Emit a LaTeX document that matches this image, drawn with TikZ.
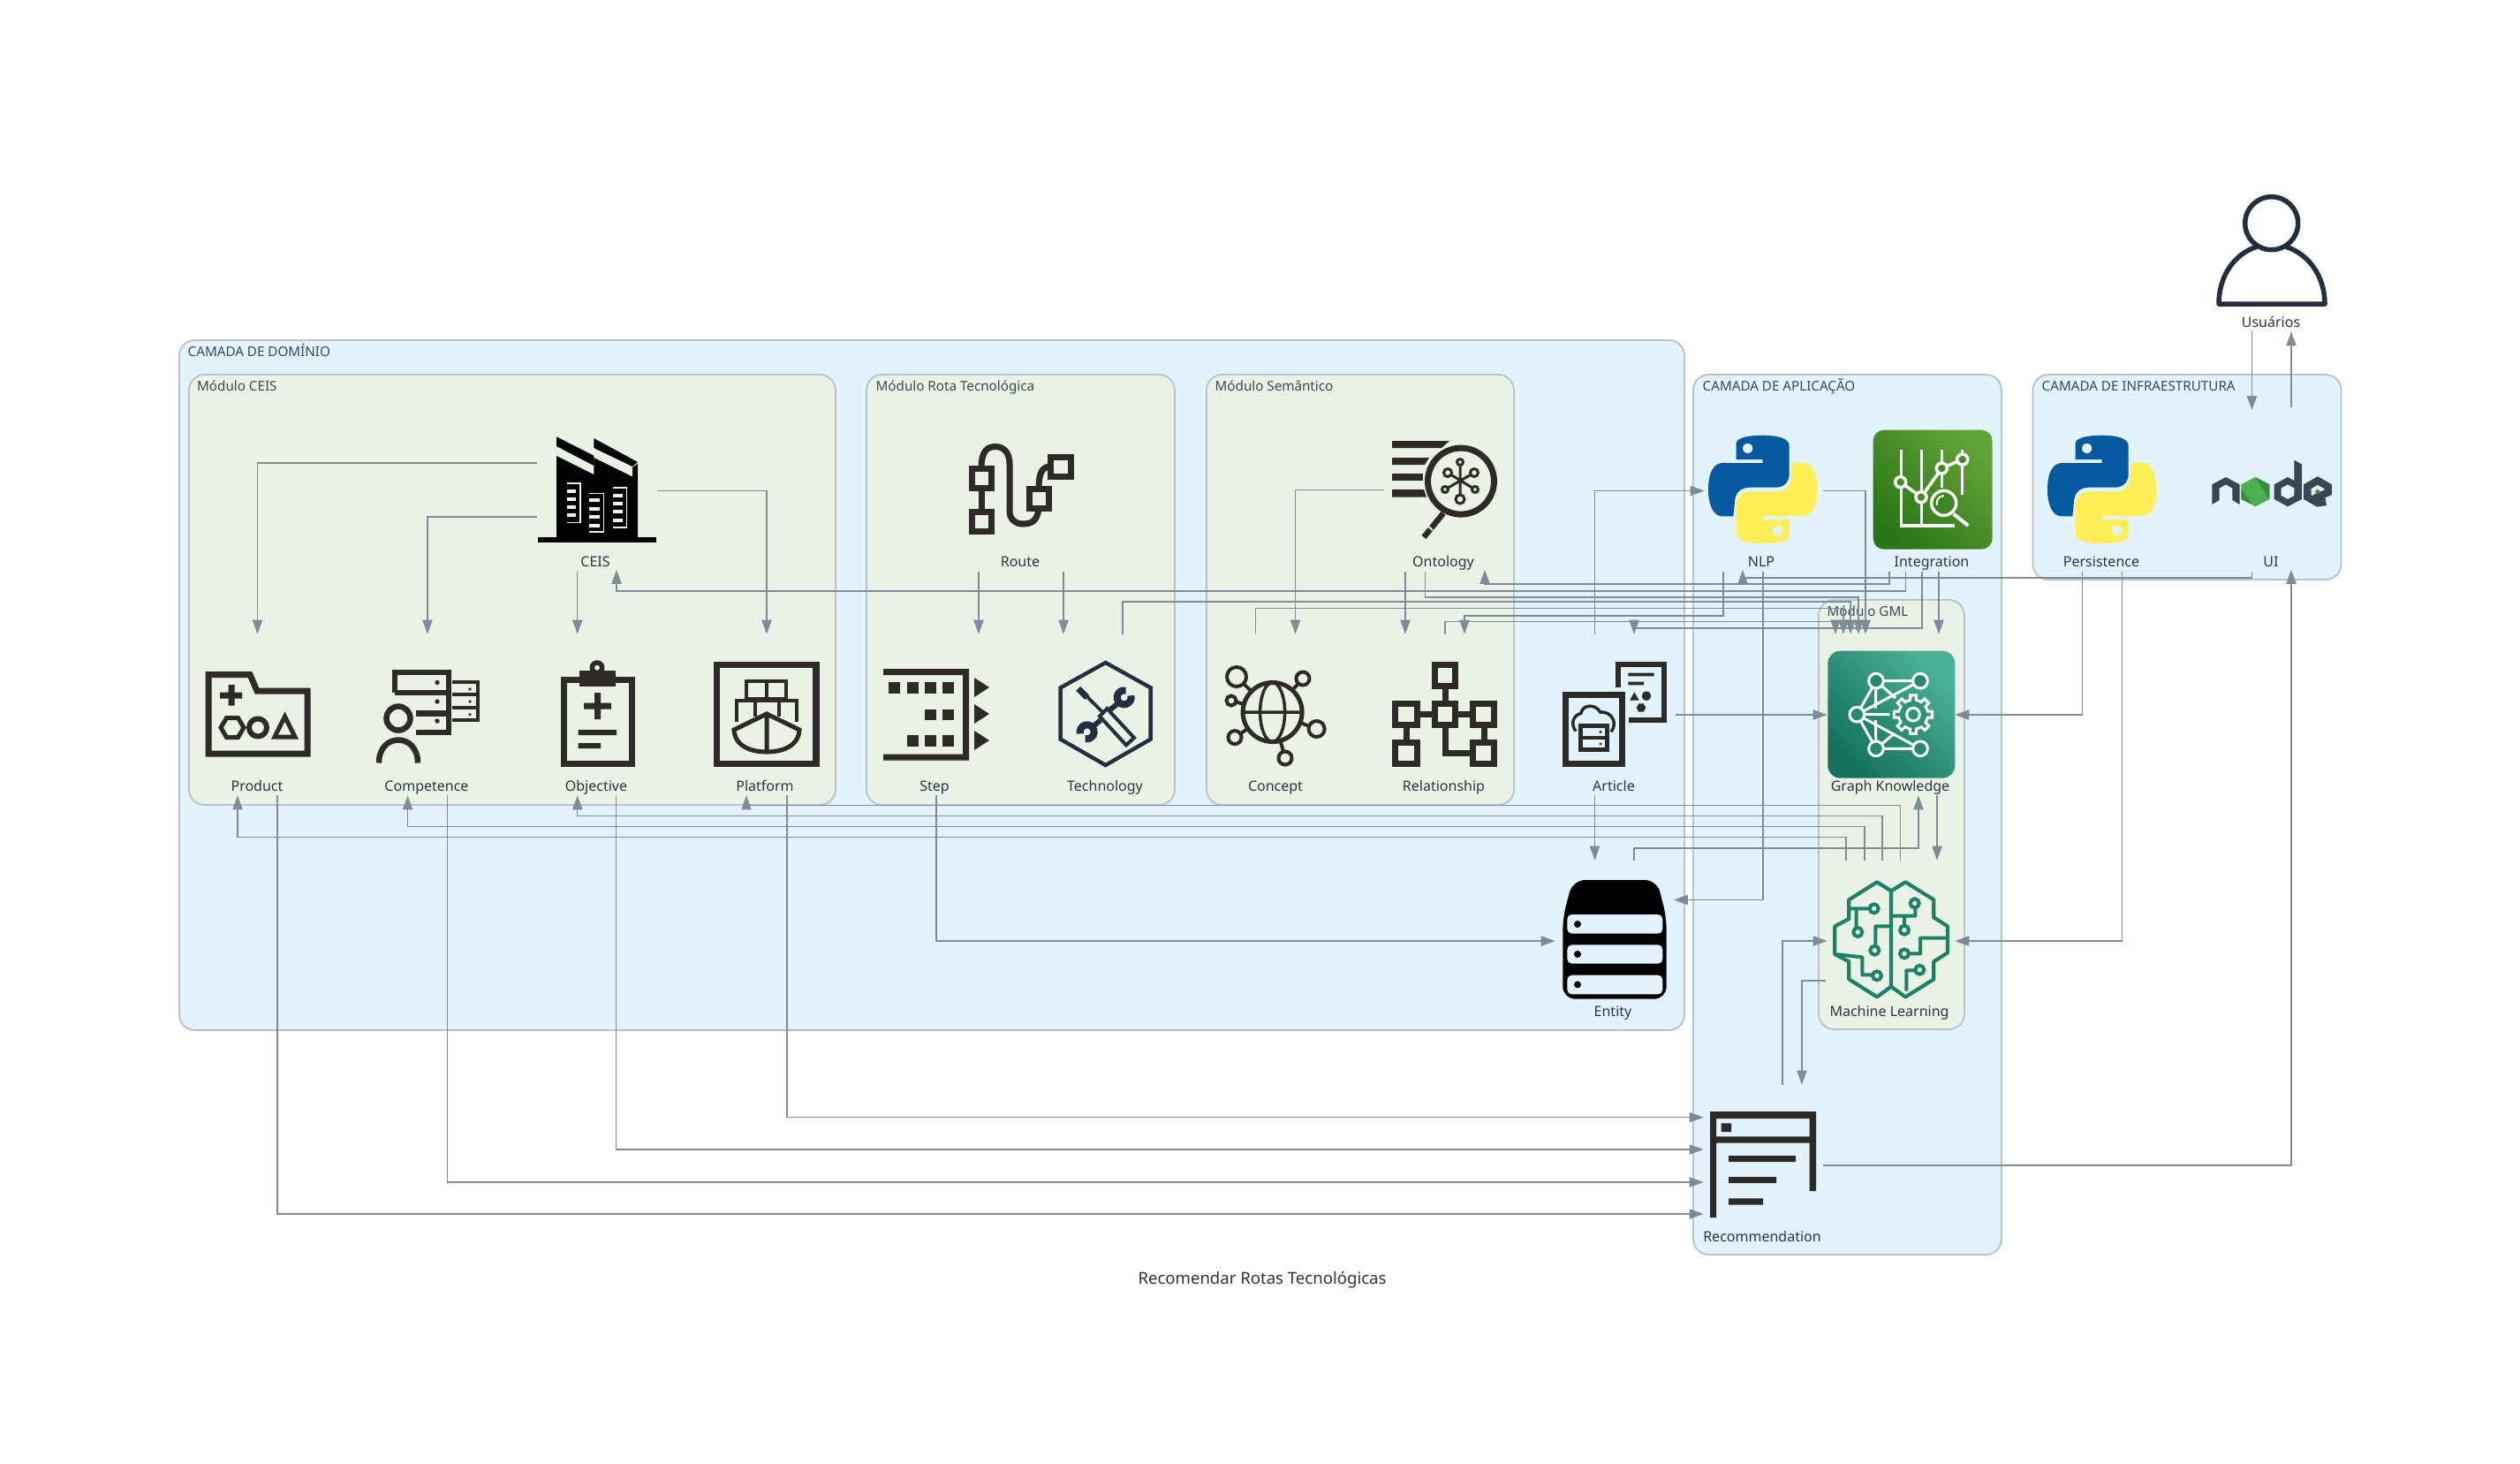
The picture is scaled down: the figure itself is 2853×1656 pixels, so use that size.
\documentclass[tikz,border=0pt]{standalone}
\usepackage{fontspec}
\setmainfont{Noto Sans}
\usetikzlibrary{arrows.meta,calc,shapes.geometric}
\definecolor{grpblue}{HTML}{E2F3FC}
\definecolor{grpgreen}{HTML}{EAF2E6}
\definecolor{grpline}{HTML}{B9C3CF}
\definecolor{edgec}{HTML}{7F8B99}
\definecolor{ink}{HTML}{2E2A27}
\definecolor{navy}{HTML}{232F3E}
\definecolor{txt}{HTML}{2B3440}
\definecolor{grptxt}{HTML}{3D4652}
\definecolor{pyblue}{HTML}{04599F}
\definecolor{pyyellow}{HTML}{FFEE58}
\definecolor{nodeg}{HTML}{38474F}
\definecolor{nodegreen}{HTML}{4CAF50}
\definecolor{nodedark}{HTML}{388E3C}
\definecolor{mlg}{HTML}{1D8069}
\definecolor{intA}{HTML}{60A337}
\definecolor{intB}{HTML}{2B7518}
\definecolor{gkA}{HTML}{4AB197}
\definecolor{gkB}{HTML}{14705C}
\tikzset{
  lw/.style={line width=#1*0.2845pt},
  grp/.style={fill=grpblue,draw=grpline,line width=0.55pt,rounded corners=5pt},
  modu/.style={fill=grpgreen,draw=grpline,line width=0.55pt,rounded corners=5pt},
  cellbox/.style={inner sep=0pt,minimum width=1.35cm,minimum height=1.81cm},
  widecell/.style={inner sep=0pt,minimum width=1.43cm,minimum height=1.81cm},
  lbl/.style={anchor=base,inner sep=0pt,text=txt,font=\fontsize{4.55}{5.5}\selectfont},
  grplbl/.style={anchor=base west,inner sep=0pt,text=grptxt,font=\fontsize{4.32}{5.5}\selectfont},
  conn/.style={draw=edgec,line width=0.42pt,-{Triangle[length=4.6pt,width=3.2pt,fill=edgec]}},
}
\newcommand{\pypath}{(31.7,27.3) -- (31.7,9) .. controls (31.7,3) and (45,0) .. (61.7,0) .. controls (78,0) and (91.7,3) .. (91.7,12) -- (91.7,44) .. controls (91.7,53) and (85,59) .. (76.7,59) -- (46.7,59) .. controls (36,59) and (30,66) .. (30,75.7) -- (28.3,91.7) -- (16.7,91.7) .. controls (5,91.7) and (0,78) .. (0,60.7) .. controls (0,44) and (5,31.3) .. (16.7,31.3) -- (61.7,31.3) -- (61.7,27.3) -- cycle (44.7,14.7) circle (5.7)}
\newcommand{\pylogo}[2]{%
  \begin{scope}[shift={(#1,#2)}]
    \fill[pyblue,even odd rule] \pypath;
    \begin{scope}[shift={(123.4,122.6)},xscale=-1,yscale=-1]
      \fill[pyyellow,even odd rule] \pypath;
    \end{scope}
  \end{scope}}
\begin{document}
\begin{tikzpicture}[x=0.01cm,y=-0.01cm]
\useasboundingbox (0,0) rectangle (2853,1656);
\fill[white] (0,0) rectangle (2853,1656);
% clusters
\path[grp] (203,385) rectangle (1907,1166);
\path[grp] (1917,424) rectangle (2266,1420);
\path[grp] (2301.5,424) rectangle (2650.5,656);
\path[modu] (214,424) rectangle (946,911);
\path[modu] (981,424) rectangle (1330,911);
\path[modu] (1366,424) rectangle (1714,911);
\path[modu] (2059,679) rectangle (2224,1165);
\node[grplbl] (t-dom) at (212,403) {CAMADA DE DOMÍNIO};
\node[grplbl] (t-app) at (1927,442) {CAMADA DE APLICAÇÃO};
\node[grplbl] (t-inf) at (2311,442) {CAMADA DE INFRAESTRUTURA};
\node[grplbl] (t-ceis) at (222.5,442) {Módulo CEIS};
\node[grplbl] (t-rota) at (991,442) {Módulo Rota Tecnológica};
\node[grplbl] (t-sem) at (1375,442) {Módulo Semântico};
\node[grplbl] (t-gml) at (2068,697) {Módulo GML};
% cells
\node[cellbox] (ceis) at (675.75,555.5) {};
\node[cellbox] (product) at (291.5,809) {};
\node[cellbox] (competence) at (484,809) {};
\node[cellbox] (objective) at (675.75,809) {};
\node[cellbox] (platform) at (868,809) {};
\node[cellbox] (route) at (1156,555.5) {};
\node[cellbox] (stepn) at (1060,809) {};
\node[cellbox] (technology) at (1251.5,809) {};
\node[cellbox] (concept) at (1444,809) {};
\node[cellbox] (relationship) at (1635,809) {};
\node[cellbox] (ontology) at (1635,555.5) {};
\node[cellbox] (article) at (1829,809) {};
\node[cellbox] (entity) at (1829,1065) {};
\node[cellbox] (nlp) at (1996,555.5) {};
\node[cellbox] (integration) at (2188,555.5) {};
\node[cellbox] (persistence) at (2380,555.5) {};
\node[cellbox] (ui) at (2572,555.5) {};
\node[cellbox] (users) at (2572,284) {};
\node[widecell] (gk) at (2141,809) {};
\node[widecell] (ml) at (2141,1065) {};
\node[cellbox] (rec) at (1996,1319) {};
% connectors
\draw[conn] ($(ceis.west)+(0,-31.5)$) -| (product.north);
\draw[conn] ($(ceis.west)+(0,29.5)$) -| (competence.north);
\draw[conn] ($(ceis.south)+(-22,0)$) -- ($(objective.north)+(-22,0)$);
\draw[conn] (ceis.east) -| (platform.north);
\draw[conn] ($(integration.south)+(-30.4,0)$) -- ++(0,22) -| ($(ceis.south)+(22.3,-2)$);
\draw[conn] ($(integration.south)+(-49,0)$) -- ++(0,14) -| ($(ontology.south)+(46,-2)$);
\draw[conn] ($(ui.south)+(-22.5,0)$) -- ++(0,7) -| ($(nlp.south)+(-23,-2)$);
\draw[conn] ($(ontology.south)+(-21.4,0)$) -- ++(0,29) -| ($(gk.north)+(-37,0)$);
\draw[conn] ($(technology.north)+(19.5,0)$) -- ++(0,-37) -| ($(gk.north)+(-46,0)$);
\draw[conn] ($(concept.north)+(-22.3,0)$) -- ++(0,-29.5) -| ($(gk.north)+(-54,0)$);
\draw[conn] ($(nlp.south)+(-45,0)$) -- ++(0,50) -| ($(relationship.north)+(23,0)$);
\draw[conn] ($(relationship.north)+(1,0)$) -- ++(0,-14.5) -| ($(gk.north)+(-63,0)$);
\draw[conn] ($(integration.south)+(-12,0)$) -- ++(0,64) -| ($(article.north)+(21,0)$);
\draw[conn] ($(article.north)+(-23.5,0)$) |- ($(nlp.west)+(2,0)$);
\draw[conn] (nlp.east) -| ($(gk.north)+(-29,0)$);
\draw[conn] ($(integration.south)+(7,0)$) -- ($(gk.north)+(54,0)$);
\draw[conn] ($(persistence.south)+(-22.4,0)$) |- (gk.east);
\draw[conn] ($(persistence.south)+(22.5,0)$) |- (ml.east);
\draw[conn] (article.east) -- (gk.west);
\draw[conn] ($(article.south)+(-23.5,0)$) -- ($(entity.north)+(-23.5,0)$);
\draw[conn] ($(entity.north)+(21,0)$) -- ++(0,-14) -| ($(gk.south)+(31,0)$);
\draw[conn] ($(ml.north)+(10.5,0)$) -- ++(0,-62.5) -| ($(platform.south)+(-23,0)$);
\draw[conn] ($(ml.north)+(-10,0)$) -- ++(0,-50.5) -| ($(objective.south)+(-22,0)$);
\draw[conn] ($(ml.north)+(-30,0)$) -- ++(0,-38.5) -| ($(competence.south)+(-22.4,0)$);
\draw[conn] ($(ml.north)+(-51,0)$) -- ++(0,-26.5) -| ($(product.south)+(-22.5,0)$);
\draw[conn] ($(gk.south)+(52,0)$) -- ($(ml.north)+(52,0)$);
\draw[conn] (nlp.south) |- ($(entity.east)+(-2.5,-46.5)$);
\draw[conn] ($(rec.north)+(22,0)$) |- (ml.west);
\draw[conn] ($(ml.west)+(-1.5,45)$) -| ($(rec.north)+(44,0)$);
\draw[conn] (rec.east) -| ($(ui.south)+(22,-2)$);
\draw[conn] ($(ui.north)+(22,-3)$) -- ($(users.south)+(22,0)$);
\draw[conn] ($(users.south)+(-22.5,0)$) -- ($(ui.north)+(-22.5,0)$);
\draw[conn] ($(product.south)+(22.5,0)$) |- ($(rec.west)+(1,55)$);
\draw[conn] ($(competence.south)+(22.5,0)$) |- ($(rec.west)+(1,19)$);
\draw[conn] ($(objective.south)+(22,0)$) |- ($(rec.west)+(1,-18)$);
\draw[conn] ($(platform.south)+(23,0)$) |- ($(rec.west)+(1,-54.4)$);
\draw[conn] (stepn.south) |- (entity.west);
\draw[conn] ($(route.south)+(-48,0)$) -- ($(stepn.north)+(48,0)$);
\draw[conn] ($(route.south)+(48,0)$) -- ($(technology.north)+(-47.5,0)$);
\draw[conn] ($(ontology.west)+(0,-1)$) -| ($(concept.north)+(22.6,0)$);
\draw[conn] ($(ontology.south)+(-44,0)$) -- ($(relationship.north)+(-44,0)$);
% labels
\node[lbl] (l-ceis) at (674,641) {CEIS};
\node[lbl] (l-prod) at (291,895) {Product};
\node[lbl] (l-comp) at (483,895) {Competence};
\node[lbl] (l-obj) at (675,895) {Objective};
\node[lbl] (l-plat) at (866,895) {Platform};
\node[lbl] (l-route) at (1155,641) {Route};
\node[lbl] (l-step) at (1058,895) {Step};
\node[lbl] (l-tech) at (1251,895) {Technology};
\node[lbl] (l-conc) at (1444,895) {Concept};
\node[lbl] (l-rel) at (1634.5,895) {Relationship};
\node[lbl] (l-ont) at (1634,641) {Ontology};
\node[lbl] (l-art) at (1827,895) {Article};
\node[lbl] (l-ent) at (1826,1150) {Entity};
\node[lbl] (l-nlp) at (1994,641) {NLP};
\node[lbl] (l-int) at (2187,641) {Integration};
\node[lbl] (l-per) at (2379,641) {Persistence};
\node[lbl] (l-ui) at (2571,641) {UI};
\node[lbl] (l-usr) at (2571,370) {Usuários};
\node[lbl] (l-gk) at (2140,895) {Graph Knowledge};
\node[lbl] (l-ml) at (2139,1150) {Machine Learning};
\node[lbl] (l-rec) at (1995,1405) {Recommendation};
\node[lbl,font=\fontsize{5.28}{6}\selectfont] (title) at (1429,1453) {Recomendar Rotas Tecnológicas};
% ---- icons
% CEIS
\fill[black] (608.6,607.5) rectangle (743,614);
\fill[black] (630,516) -- (672.3,537) -- (672.3,518) -- (716,539.5) -- (716,529) -- (722,525) -- (722,608) -- (630,608) -- cycle;
\fill[black] (630,494.3) -- (672.3,515.7) -- (672.3,527) -- (630,505) -- cycle;
\fill[black] (672.3,496) -- (722,523) -- (716,528) -- (672.3,507) -- cycle;
\foreach \y in {555.7,564.6,573.6,583} \fill[grpgreen] (642,\y-2) rectangle (652,\y+2);
\foreach \y in {566,575.7,585,595} \fill[grpgreen] (667,\y-2) rectangle (678.5,\y+2);
\foreach \y in {561,570,579,588.6} \fill[grpgreen] (694,\y-2) rectangle (705,\y+2);
\draw[grpgreen,lw=1.2] (642,547) -- (657,547) -- (657,591.5) -- (642,591.5);
\draw[grpgreen,lw=1.2] (667,558.6) -- (683.6,558.6) -- (683.6,602) -- (667,602);
\draw[grpgreen,lw=1.2] (694,552) -- (709.6,552) -- (709.6,597) -- (694,597);
% Product
\draw[ink,lw=7] (236,763.5) -- (283,763.5) -- (291,782) -- (348,782) -- (348,853) -- (236,853) -- cycle;
\fill[ink] (258.5,775) rectangle (265.5,798.5) (249,783.5) rectangle (274,790.5);
\draw[ink,lw=5] (250,823.5) -- (256.5,812.5) -- (269.5,812.5) -- (276,823.5) -- (269.5,834.5) -- (256.5,834.5) -- cycle;
\draw[ink,lw=6] (292,823.5) circle (10);
\draw[ink,lw=5] (322.5,811) -- (334,834) -- (311,834) -- cycle;
% Competence
\draw[ink,lw=6.5] (447,784) -- (447,761) -- (508,761) -- (508,829) -- (471,829) (447,784) -- (508,784) (471,807.5) -- (508,807.5);
\fill[ink] (495,772.5) circle (2.7) (495,794) circle (2.7) (495,816) circle (2.7);
\draw[ink,lw=4] (512,772) -- (541,772) -- (541,815) -- (512,815) (512,786) -- (541,786) (512,801) -- (541,801);
\fill[ink] (532,780) circle (1.8) (532,794) circle (1.8) (532,808.6) circle (1.8);
\draw[ink,lw=6.5] (451,813) circle (13.5);
\draw[ink,lw=6.5] (429,863.5) .. controls (429,846) and (440,837.5) .. (451,837.5) .. controls (462,837.5) and (473,846) .. (473,863.5);
% Objective
\draw[ink,lw=7] (656,769) -- (638,769) -- (638,864) -- (715,864) -- (715,769) -- (697,769);
\fill[ink] (655.5,759) rectangle (697,776.5);
\fill[ink,even odd rule] (676,755.7) circle (8.5) (676,755.7) circle (3);
\fill[ink] (673,784) rectangle (680,814) (661,795.5) rectangle (692,802.5);
\fill[ink] (654.5,826) rectangle (698,832) (654.5,841) rectangle (680,847);
% Platform
\draw[ink,lw=7.5] (811.7,752.7) rectangle (923.8,864.3);
\draw[ink,lw=4.5] (845,771) rectangle (890,791) (868,771) -- (868,791);
\draw[ink,lw=4.5] (834,817) -- (834,793) -- (902,793) -- (902,817) (855,793) -- (855,811) (882,793) -- (882,811);
\draw[ink,lw=5] (831,826) -- (868,808) -- (905,826) .. controls (904,845) and (885,851) .. (868,851) .. controls (851,851) and (832,845) .. (831,826) -- cycle (868,808) -- (868,851);
% Route
\draw[ink,lw=7] (1100.5,530.5) rectangle (1122.5,552.5) (1100.5,579.5) rectangle (1122.5,601.5) (1189.5,517) rectangle (1212.5,539.5) (1165.5,553.5) rectangle (1187.5,575.5);
\draw[ink,lw=7] (1111,552.5) -- (1111,579.5);
\draw[ink,lw=7] (1111,530) .. controls (1111,510) and (1118,505.5) .. (1127,505.5) .. controls (1136,505.5) and (1143,512) .. (1143,525) -- (1143,578) .. controls (1143,588) and (1150,593) .. (1157,593) .. controls (1168,593) and (1174,590) .. (1176,576);
\draw[ink,lw=7] (1176,553) .. controls (1176,535) and (1180,528) .. (1189.5,528);
% Step
\fill[ink] (1000,757) rectangle (1097,764) (1000,853.6) rectangle (1097,860.7) (1090,757) rectangle (1097,860.7);
\foreach \x in {1006,1026.5,1047,1067} \fill[ink] (\x,772) rectangle (\x+13,785);
\foreach \x in {1047,1067} \fill[ink] (\x,802.5) rectangle (\x+13,815);
\foreach \x in {1026.5,1047,1067} \fill[ink] (\x,832) rectangle (\x+13,845);
\foreach \y in {778,808,838} \fill[ink] (1103,\y-11) -- (1120,\y) -- (1103,\y+11) -- cycle;
% Technology
\begin{scope}[shift={(1190,740)},scale=0.33333]
\draw[navy,lw=4.4] (185,30) -- (338,115) -- (338,290) -- (185,378) -- (32,290) -- (32,115) -- cycle;
\draw[navy,lw=3.8] (98,122) -- (175,198);
\draw[navy,lw=7] (92,118) -- (122,148);
\draw[navy,lw=4] (165,212) -- (190,186) -- (282,285) -- (255,310) -- cycle;
\draw[navy,lw=8] (248,148) ++(-15:24) arc[start angle=-15,end angle=285,radius=24];
\draw[navy,lw=6] (228,168) -- (200,190);
\draw[navy,lw=8] (122,265) ++(165:24) arc[start angle=165,end angle=465,radius=24];
\draw[navy,lw=6] (142,247) -- (168,225);
\end{scope}
% Concept
\draw[ink,lw=4] (1440.6,806) -- (1400,766) (1440.6,806) -- (1475,768) (1440.6,806) -- (1394,793) (1440.6,806) -- (1398,834.6) (1440.6,806) -- (1490.6,825) (1440.6,806) -- (1455,858);
\fill[grpgreen] (1440.6,806) circle (34);
\draw[ink,lw=5] (1440.6,806) circle (33.5);
\draw[ink,lw=3.5] (1440.6,806) ellipse (14 and 33.5) (1407,806) -- (1474,806);
\filldraw[fill=grpgreen,draw=ink,lw=4] (1400,766) circle (11) (1475,768) circle (7.5) (1394,793) circle (5.5) (1398,834.6) circle (7.5) (1490.6,825) circle (9) (1455,858) circle (7.5);
% Relationship
\draw[ink,lw=7] (1636,768) -- (1636,852) -- (1670,852) (1592,808) -- (1680,808) (1592,808) -- (1592,840) (1680,808) -- (1680,840);
\filldraw[fill=grpgreen,draw=ink,lw=7] (1624.2,752.5) rectangle (1647.5,776.5) (1624.2,796.5) rectangle (1647.5,820.5) (1579.5,796.5) rectangle (1604.5,820.5) (1667.5,796.5) rectangle (1691.5,820.5) (1579.5,840) rectangle (1604.5,864.5) (1667.5,840) rectangle (1691.5,864.5);
% Ontology
\fill[ink] (1576,499) -- (1641,499) -- (1632,507) -- (1576,507) -- cycle;
\fill[ink] (1576,518) -- (1618,518) -- (1613,526) -- (1576,526) -- cycle;
\fill[ink] (1576,536) rectangle (1610.5,544);
\fill[ink] (1576,554) -- (1612,554) -- (1615,562.5) -- (1576,562.5) -- cycle;
\draw[ink,lw=7] (1654,544.6) circle (37.5);
\draw[ink,lw=6.5] (1634,581) -- (1612,608);
\draw[grpgreen,lw=2] (1622,600) -- (1615,594);
\draw[ink,lw=3] (1653,523) -- (1653,565) (1639,535) -- (1670,554) (1669,535) -- (1636,554);
\filldraw[fill=grpgreen,draw=ink,lw=3] (1653,523) circle (3.5) (1639,535) circle (4.5) (1669,535) circle (4.5) (1636,554) circle (3.5) (1670,554) circle (3.5) (1653,565) circle (5);
% Article
\begin{scope}[shift={(1740,730)},scale=0.33333]
\draw[ink,lw=7] (96,168) rectangle (289,404);
\draw[ink,lw=5.8] (276,145) -- (276,67) -- (433,67) -- (433,256) -- (312,256);
\fill[ink] (310,95) rectangle (398,106) (310,125) rectangle (363,136);
\fill[ink] (315,188) -- (347,188) -- (331,160) -- cycle;
\fill[ink] (372,173) circle (16);
\fill[ink] (370,213) -- (362,227) -- (346,227) -- (338,213) -- (346,199) -- (362,199) -- cycle;
\draw[ink,lw=3.5] (132,293) .. controls (115,270) and (120,240) .. (150,232) .. controls (155,200) and (200,200) .. (215,228) .. controls (255,225) and (275,265) .. (252,295);
\draw[ink,lw=4.5] (149,275) rectangle (238,355) (149,315) -- (238,315);
\fill[ink] (216,295) circle (5) (216,336) circle (5);
\end{scope}
% Entity
\begin{scope}[shift={(1740,950)},scale=0.33333]
\fill[black,rounded corners=4pt] (88,542) -- (88,265) -- (122,138) -- (408,138) -- (440,265) -- (440,542) -- cycle;
\fill[grpblue,rounded corners=1.5pt] (103,255) rectangle (427,320) (103,358) rectangle (427,422) (103,461) rectangle (427,526);
\fill[black] (138,288) circle (12) (138,390) circle (12) (138,493) circle (12);
\end{scope}
% Python
\pylogo{1934}{492.7}
\pylogo{2318}{492.7}
% Node
\begin{scope}[shift={(2280,200)},scale=0.33333]
\fill[nodeg] (673,1045) -- (720,1020) -- (767,1045) -- (767,1113) -- (742,1098) -- (742,1058) -- (720,1045) -- (698,1058) -- (698,1098) -- (673,1113) -- cycle;
\fill[nodeg,even odd rule] (952,962) -- (978,977) -- (978,1095) -- (930,1120) -- (884,1095) -- (884,1045) -- (930,1020) -- (952,1032) -- cycle (930,1045) -- (952,1057) -- (952,1083) -- (930,1095) -- (908,1083) -- (908,1057) -- cycle;
\draw[nodeg,lw=8.3,line join=miter] (1060,1104) -- (1032,1108) -- (997,1088) -- (997,1052) -- (1032,1032) -- (1067,1052) -- (1067,1072) -- (1020,1092);
\fill[nodedark] (1032,1070) circle (8);
\fill[nodegreen] (820,1020) -- (868,1045) -- (868,1095) -- (820,1120) -- (772,1095) -- (772,1045) -- cycle;
\fill[nodedark] (820,1020) -- (868,1045) -- (868,1095) -- cycle;
\fill[nodedark] (772,1060) -- (808,1112) -- (772,1095) -- cycle;
\end{scope}
% Integration
\begin{scope}[shift={(2110,480)},scale=0.33333]
\shade[top color=intA,bottom color=intB,shading angle=-45,rounded corners=3.5pt] (32,20) rectangle (437,425);
\draw[white,lw=3.5] (127,88) -- (127,345) -- (310,345) (196,88) -- (196,345) (265,88) -- (265,215) (335,88) -- (335,240);
\draw[white,lw=3.5] (125,197) -- (195,248) -- (265,150) -- (335,120);
\filldraw[fill=intB!55!intA,draw=white,lw=3.5] (125,197) circle (18) (195,248) circle (18) (265,150) circle (18) (335,120) circle (18);
\filldraw[fill=intB!65!intA,draw=white,lw=3.5] (272,268) circle (42);
\draw[white,lw=2] (272,243) arc[start angle=-90,end angle=-200,radius=24];
\draw[white,lw=4] (305,305) -- (355,345);
\end{scope}
% Graph Knowledge
\begin{scope}[shift={(2060,730)},scale=0.33333]
\shade[top color=gkA,bottom color=gkB,shading angle=-45,rounded corners=4pt] (28,20) rectangle (460,452);
\draw[white,lw=3] (192,122) -- (342,122) (192,352) -- (342,352) (127,236) -- (192,122) (127,236) -- (192,352) (127,236) -- (342,122) (127,236) -- (342,352) (127,236) -- (238,236) (192,122) -- (190,215) (192,122) -- (258,180) (192,352) -- (190,255) (192,352) -- (255,300);
\filldraw[fill=gkB!65!gkA,draw=white,lw=3] (192,122) circle (25) (342,122) circle (25) (127,236) circle (25) (192,352) circle (25) (342,352) circle (25);
\begin{scope}[shift={(318,236)}]
\fill[gkB!50!gkA] (0,0) circle (52);
\foreach \a in {0,45,...,315} \draw[white,lw=3,fill=none] (\a-22.5:50) -- (\a-12:50) -- (\a-9:66) -- (\a+9:66) -- (\a+12:50) -- (\a+22.5:50);
\draw[white,lw=3] (0,0) circle (22);
\end{scope}
\end{scope}
% Machine Learning
\begin{scope}[shift={(2060,985)},scale=0.33333]
\draw[mlg,lw=4.2,line join=round] (243,70) -- (195,40) -- (100,100) -- (100,165) -- (52,190) -- (52,285) -- (100,310) -- (100,370) -- (195,430) -- (243,395) -- (292,430) -- (388,370) -- (388,310) -- (435,280) -- (435,190) -- (388,160) -- (388,100) -- (292,40) -- cycle (243,70) -- (243,395);
\draw[mlg,lw=4,line join=round] (100,130) -- (185,130) (125,130) -- (125,195) (243,190) -- (190,190) -- (190,265) (52,285) -- (145,295) -- (145,355) -- (190,355) (243,155) -- (325,155) -- (325,115) (288,155) -- (288,190) (435,230) -- (342,230) -- (342,283) -- (295,283) (295,410) -- (295,340) -- (335,340);
\filldraw[fill=grpgreen,draw=mlg,lw=4] (185,130) circle (15) (130,210) circle (15) (187,272) circle (15) (195,358) circle (15) (323,112) circle (15) (288,203) circle (15) (288,283) circle (15) (340,338) circle (15);
\end{scope}
% Recommendation
\fill[ink] (1936,1258) rectangle (2056,1266) (1936,1286.4) rectangle (2056,1293.6) (1936,1258) rectangle (1943,1378) (2048.5,1258) rectangle (2056,1348) (1948.5,1271.4) rectangle (1960,1281) (1957,1308) rectangle (2033,1315) (1957,1332) rectangle (2011,1339) (1957,1356.4) rectangle (1996,1363.6);
% Users
\draw[navy,lw=5.5] (2571.7,252.7) circle (30);
\draw[navy,lw=5.5,line join=round] (2555,279.3) .. controls (2530,287) and (2512,312) .. (2512,344) -- (2632,344) .. controls (2632,312) and (2613,287) .. (2588,279.3);
\end{tikzpicture}
\end{document}
